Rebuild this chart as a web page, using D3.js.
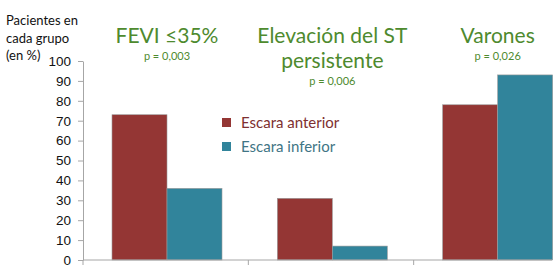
<!DOCTYPE html>
<html>
<head>
<meta charset="utf-8">
<script src="https://cdn.jsdelivr.net/npm/d3@7"></script>
<style>
  body { margin: 0; background: #fff; }
  svg { display: block; font-family: Lato, "Open Sans", sans-serif; }
</style>
</head>
<body>
<svg id="chart" width="560" height="277"></svg>
<script>
// data
const categories = ["FEVI ≤35%", "Elevación del ST persistente", "Varones"];
const titleLines = [["FEVI ≤35%"], ["Elevación del ST", "persistente"], ["Varones"]];
const pValues = ["p = 0,003", "p = 0,006", "p = 0,026"];
const seriesNames = ["Escara anterior", "Escara inferior"];
const anterior = [73, 31, 78];
const inferior = [36, 7, 93];
const yTicks = [0, 10, 20, 30, 40, 50, 60, 70, 80, 90, 100];

const colours = {"Escara anterior": "#943634", "Escara inferior": "#31849b"};
const textColours = {"Escara anterior": "#7e3030", "Escara inferior": "#3f7585"};

let svg = d3.select("#chart");
let width = 560, height = 277;
let margin = {left: 83, top: 61, bottom: 17, right: -19};

let x = d3.scaleBand()
    .domain(categories)
    .range([margin.left, width - margin.right])
    .paddingInner(0).paddingOuter(0);
let x1 = d3.scaleBand()
    .domain(seriesNames)
    .range([29, 29 + 110]);
let y = d3.scaleLinear()
    .domain([0, 100])
    .range([height - margin.bottom, margin.top]);

let rows = categories.map((c, i) => ({cat: c, values: [
  {key: "Escara anterior", value: anterior[i]},
  {key: "Escara inferior", value: inferior[i]}
]}));

// bars
let mainG = svg.append("g").attr("class", "main");
mainG.selectAll("g")
  .data(rows)
  .join("g")
    .attr("transform", d => `translate(${x(d.cat)},0)`)
  .selectAll("rect")
  .data(d => d.values)
  .join("rect")
    .attr("x", d => x1(d.key))
    .attr("width", x1.bandwidth())
    .attr("y", d => y(d.value))
    .attr("height", d => y(0) - y(d.value))
    .attr("fill", d => colours[d.key])
    .attr("stroke", "#9a9a9a")
    .attr("stroke-width", 0.6);

// y axis
let axisY = svg.append("g").attr("class", "axisY")
    .attr("transform", `translate(${margin.left},0)`)
    .call(d3.axisLeft(y).tickValues(yTicks).tickSize(5).tickPadding(7).tickSizeOuter(0));
axisY.select(".domain").attr("stroke", "#a6a6a6");
axisY.selectAll(".tick line").attr("stroke", "#a6a6a6");
axisY.selectAll("text").attr("font-size", 13.5).attr("fill", "#111");

// x axis: ticks on category boundaries
let axisX = svg.append("g").attr("class", "axisX");
axisX.append("line")
    .attr("x1", margin.left).attr("x2", 552)
    .attr("y1", y(0)).attr("y2", y(0))
    .attr("stroke", "#a6a6a6");
axisX.selectAll("line.tk")
  .data(categories)
  .join("line")
    .attr("class", "tk")
    .attr("x1", d => x(d)).attr("x2", d => x(d))
    .attr("y1", y(0)).attr("y2", y(0) + 5)
    .attr("stroke", "#a6a6a6");

// category titles
let titles = svg.append("g").attr("class", "titles");
categories.forEach((c, i) => {
  let cx = x(c) + x1.range()[0] + (x1.range()[1] - x1.range()[0]) / 2;
  let lines = titleLines[i];
  lines.forEach((t, j) => {
    titles.append("text")
      .attr("x", cx).attr("y", 43 + j * 25)
      .attr("text-anchor", "middle")
      .attr("font-size", 21)
      .attr("fill", "#4e8a2e")
      .text(t);
  });
  titles.append("text")
    .attr("x", cx).attr("y", 43 + (lines.length - 1) * 25 + 17)
    .attr("text-anchor", "middle")
    .attr("font-size", 11)
    .attr("fill", "#4e8a2e")
    .text(pValues[i]);
});

// y title
let yName = svg.append("text").attr("font-size", 13).attr("fill", "#111");
["Pacientes en", "cada grupo", "(en %)"].forEach((t, j) => {
  yName.append("tspan").attr("x", 6).attr("y", 25 + j * 17.5).text(t);
});

// legend
let legend = svg.append("g").attr("class", "legend").attr("transform", "translate(222,118)");
let li = legend.selectAll("g")
  .data(seriesNames)
  .join("g")
    .attr("transform", (d, i) => `translate(0,${i * 24})`);
li.append("rect")
    .attr("width", 9).attr("height", 9)
    .attr("fill", d => colours[d]);
li.append("text")
    .attr("x", 19).attr("y", 10)
    .attr("font-size", 15)
    .attr("fill", d => textColours[d])
    .text(d => d);
</script>
</body>
</html>
